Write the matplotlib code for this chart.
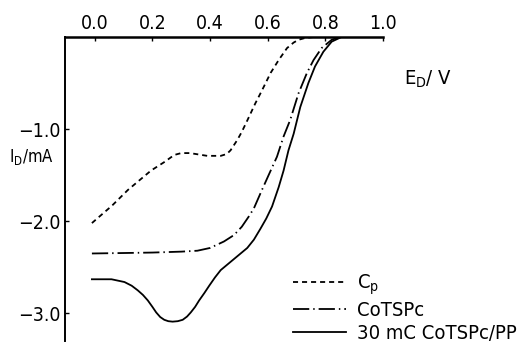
import matplotlib
matplotlib.use("Agg")
import matplotlib.pyplot as plt

# Disk potential (V) and disk current (mA) for the three electrodes
e_cp = [-0.01, 0.06, 0.115, 0.195, 0.24, 0.276, 0.30, 0.33, 0.36, 0.39, 0.437, 0.458,
        0.471, 0.494, 0.51, 0.53, 0.557, 0.58, 0.61, 0.638, 0.667, 0.69, 0.707, 0.73,
        0.76, 0.85, 0.88]
i_cp = [-2.02, -1.83, -1.66, -1.45, -1.36, -1.28, -1.26, -1.26, -1.275, -1.29, -1.29, -1.27,
        -1.23, -1.12, -1.03, -0.90, -0.72, -0.58, -0.39, -0.25, -0.12, -0.06, -0.03, -0.01,
        0.0, 0.0, 0.0]

e_cotspc = [-0.01, 0.1, 0.2, 0.30, 0.356, 0.40, 0.448, 0.483, 0.51, 0.534, 0.552,
            0.58, 0.603, 0.632, 0.655, 0.678, 0.707, 0.736, 0.759, 0.787, 0.822, 0.85, 0.88]
i_cotspc = [-2.35, -2.345, -2.34, -2.33, -2.32, -2.29, -2.22, -2.15, -2.06, -1.95, -1.86,
            -1.66, -1.50, -1.30, -1.08, -0.90, -0.61, -0.39, -0.25, -0.12, -0.03, 0.0, 0.0]

e_pp = [-0.01, 0.058, 0.103, 0.128, 0.149, 0.167, 0.184, 0.2, 0.213, 0.227, 0.241, 0.255,
        0.27, 0.288, 0.305, 0.32, 0.333, 0.348, 0.362, 0.38, 0.397, 0.417, 0.437, 0.46,
        0.483, 0.506, 0.529, 0.552, 0.575, 0.595, 0.615, 0.638, 0.655, 0.672, 0.69,
        0.713, 0.741, 0.764, 0.793, 0.822, 0.856, 0.88]
i_pp = [-2.63, -2.63, -2.66, -2.70, -2.75, -2.80, -2.86, -2.93, -2.99, -3.04, -3.07, -3.085,
        -3.09, -3.085, -3.07, -3.035, -2.99, -2.93, -2.86, -2.78, -2.70, -2.61, -2.53, -2.47,
        -2.41, -2.35, -2.29, -2.20, -2.08, -1.97, -1.84, -1.63, -1.45, -1.23, -1.05,
        -0.76, -0.50, -0.32, -0.16, -0.05, 0.0, 0.0]

labels = [r"C$_\mathrm{p}$", "CoTSPc", "30 mC CoTSPc/PP"]
x_ticks = [0.0, 0.2, 0.4, 0.6, 0.8, 1.0]
x_tick_labels = ["0.0", "0.2", "0.4", "0.6", "0.8", "1.0"]
y_ticks = [-1.0, -2.0, -3.0]
y_tick_labels = ["\u22121.0", "\u22122.0", "\u22123.0"]

plt.rcParams["font.family"] = ["DejaVu Sans"]
plt.rcParams["font.stretch"] = "condensed"
plt.rcParams["mathtext.fontset"] = "custom"
plt.rcParams["mathtext.rm"] = "DejaVu Sans:stretch=condensed"

fig = plt.figure(figsize=(5.31, 3.46), dpi=100)
ax = fig.add_axes([0.1224, 0.0145, 0.5989, 0.8785])

lw = 1.3
ax.plot(e_cp, i_cp, color="black", lw=lw, linestyle=(0, (2.8, 2.2)), label=labels[0])
ax.plot(e_cotspc, i_cotspc, color="black", lw=lw, linestyle=(0, (9, 2.2, 0.8, 2.2)), label=labels[1])
ax.plot(e_pp, i_pp, color="black", lw=lw, linestyle="-", label=labels[2])

ax.set_xlim(-0.1034, 1.0)
ax.set_ylim(-3.30, 0.0)

ax.spines["bottom"].set_visible(False)
ax.spines["right"].set_visible(False)
ax.spines["top"].set_linewidth(1.8)
ax.spines["left"].set_linewidth(1.4)

ax.xaxis.tick_top()
ax.set_xticks(x_ticks)
ax.set_xticklabels(x_tick_labels)
ax.set_yticks(y_ticks)
ax.set_yticklabels(y_tick_labels)
ax.tick_params(axis="both", direction="in", length=3, width=1.0, labelsize=14, pad=3)

fig.text(0.806, 0.77, r"E$_\mathrm{D}$/ V", fontsize=14.5, ha="center", va="center")
fig.text(0.06, 0.545, r"I$_\mathrm{D}$/mA", fontsize=12, ha="center", va="center")

ax.legend(loc="upper left", bbox_to_anchor=(0.552, 0.212), bbox_transform=fig.transFigure,
          frameon=False, fontsize=14.5, handlelength=2.65, handletextpad=0.5,
          labelspacing=0.2, borderpad=0, borderaxespad=0)

fig.savefig("out.png", dpi=100)
